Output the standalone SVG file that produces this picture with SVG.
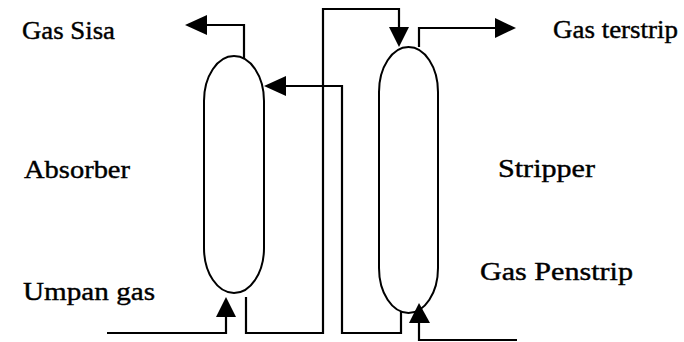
<svg xmlns="http://www.w3.org/2000/svg" width="684" height="342" viewBox="0 0 684 342">
<style>
.vessel{fill:none;stroke:#000;stroke-width:2}
.line{fill:none;stroke:#000;stroke-width:2.2}
.head{fill:#000}
text{font-family:"Liberation Serif","Times New Roman",serif;font-size:25px;fill:#000;stroke:#000;stroke-width:0.4}
</style>
<rect width="684" height="342" fill="#fff"/>
<g id="absorber">
<path class="vessel" d="M204,101 A30,45 0 0 1 264,101 L264,248 A30,45 0 0 1 204,248 Z"/>
<text x="24" y="178" textLength="106" lengthAdjust="spacingAndGlyphs">Absorber</text>
</g>
<g id="stripper">
<path class="vessel" d="M379,92 A29.5,45 0 0 1 438,92 L438,268 A29.5,45 0 0 1 379,268 Z"/>
<text x="498" y="177" textLength="97" lengthAdjust="spacingAndGlyphs">Stripper</text>
</g>
<g id="labels">
<text x="22" y="39" textLength="93" lengthAdjust="spacingAndGlyphs">Gas Sisa</text>
<text x="553" y="38" textLength="125" lengthAdjust="spacingAndGlyphs">Gas terstrip</text>
<text x="480" y="280" textLength="153" lengthAdjust="spacingAndGlyphs">Gas Penstrip</text>
<text x="23" y="300" textLength="132" lengthAdjust="spacingAndGlyphs">Umpan gas</text>
</g>
<g id="connectors">
<polyline class="line" points="244,59 244,25 205,25"/>
<polygon class="head" points="185,25 207,15 207,35"/>
<polyline class="line" points="246,297 246,333 323,333 323,9 399,9 399,29"/>
<polygon class="head" points="399,47 389,27 409,27"/>
<polyline class="line" points="401,311 401,333 342,333 342,86 284,86"/>
<polygon class="head" points="264,86 286,76 286,96"/>
<polyline class="line" points="419,47 419,28 497,28"/>
<polygon class="head" points="516,28 495,18 495,38"/>
<polyline class="line" points="107,333 226,333 226,315"/>
<polygon class="head" points="226,297 216,317 236,317"/>
<polyline class="line" points="517,340 419,340 419,321"/>
<polygon class="head" points="419,303 409,323 430,323"/>
</g>
</svg>
